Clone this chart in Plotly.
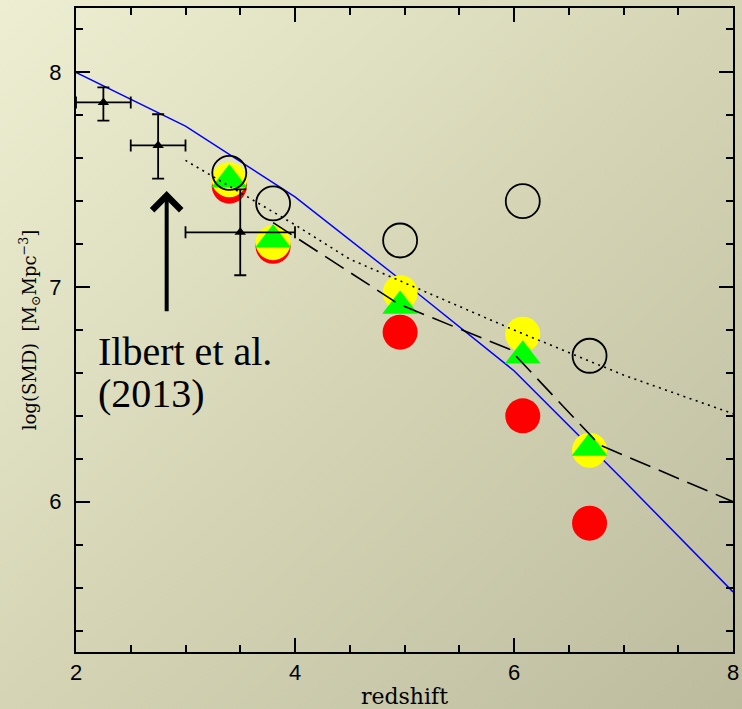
import base64
import plotly.graph_objects as go

# Model curves: stellar mass density vs redshift
z_model = [2, 3, 4, 5, 6, 7, 8]
smd_model = [8.00, 7.75, 7.42, 7.02, 6.61, 6.10, 5.58]

z_dotted = [3, 4, 4.5, 5, 6, 7, 8]
smd_dotted = [7.59, 7.29, 7.13, 7.02, 6.80, 6.59, 6.41]

z_dashed = [3.80, 4.95, 5.96, 6.78, 8]
smd_dashed = [7.30, 6.92, 6.71, 6.265, 6.00]

# Ilbert et al. (2013) measurements
z_ilbert = [2.25, 2.75, 3.50]
z_ilbert_err = [0.25, 0.25, 0.50]
smd_ilbert = [7.86, 7.66, 7.255]
smd_ilbert_up = [0.07, 0.145, 0.20]
smd_ilbert_down = [0.085, 0.155, 0.20]

# Binned estimates at the sample redshifts
z_bins = [3.40, 3.80, 4.96, 6.08, 6.69]
smd_open = [7.532, 7.39, 7.217, 7.40, 6.68]
smd_red = [7.47, 7.19, 6.79, 6.40, 5.90]
smd_yellow = [7.50, 7.207, 6.974, 6.78, 6.24]
smd_green = [7.50, 7.22, 6.912, 6.68, 6.25]

x_ticks = [2, 4, 6, 8]
y_ticks = [6, 7, 8]

W, H = 742, 709
ML, MR, MT, MB = 76, 9, 8, 57
PW, PH = W - ML - MR, H - MT - MB

fig = go.Figure()

fig.add_trace(go.Scatter(x=z_model, y=smd_model, mode="lines",
                         line=dict(color="#0000ff", width=1.5)))

fig.add_trace(go.Scatter(x=z_bins, y=smd_red, mode="markers",
                         marker=dict(symbol="circle", size=35, color="#ff0000",
                                     line=dict(width=0))))
fig.add_trace(go.Scatter(x=z_bins, y=smd_yellow, mode="markers",
                         marker=dict(symbol="circle", size=35, color="#ffff00",
                                     line=dict(width=0))))
fig.add_trace(go.Scatter(x=z_bins, y=smd_green, mode="markers",
                         marker=dict(symbol="triangle-up", size=31, color="#00ff00",
                                     line=dict(width=0))))

fig.add_trace(go.Scatter(x=z_dotted, y=smd_dotted, mode="lines",
                         line=dict(color="black", width=1.6, dash="2px,4.5px")))
fig.add_trace(go.Scatter(x=z_dashed, y=smd_dashed, mode="lines",
                         line=dict(color="black", width=1.6, dash="22px,9px")))

fig.add_trace(go.Scatter(
    x=z_ilbert, y=smd_ilbert, mode="markers",
    marker=dict(symbol="triangle-up", size=10, color="black"),
    error_x=dict(type="data", array=z_ilbert_err, color="black", thickness=1.8, width=6),
    error_y=dict(type="data", array=smd_ilbert_up, arrayminus=smd_ilbert_down,
                 color="black", thickness=1.8, width=6),
))

fig.add_trace(go.Scatter(x=z_bins, y=smd_open, mode="markers",
                         marker=dict(symbol="circle-open", size=34, color="black",
                                     line=dict(width=1.8, color="black"))))

# Label and arrow pointing at the Ilbert et al. points
fig.add_annotation(x=2.183, y=6.70, text="Ilbert et al.", showarrow=False,
                   xanchor="left", yanchor="middle",
                   font=dict(family="Liberation Serif", size=40, color="black"))
fig.add_annotation(x=2.183, y=6.505, text="(2013)", showarrow=False,
                   xanchor="left", yanchor="middle",
                   font=dict(family="Liberation Serif", size=40, color="black"))
fig.add_annotation(x=2.828, y=7.447, ax=2.828, ay=6.88, axref="x", ayref="y",
                   text="", showarrow=True, arrowhead=4, arrowsize=1.4,
                   arrowwidth=4, arrowcolor="black", standoff=0)

# Soft diagonal background wash
svg = (
    f'<svg xmlns="http://www.w3.org/2000/svg" width="{W}" height="{H}">'
    '<defs><linearGradient id="g" x1="0" y1="0" x2="1" y2="1">'
    '<stop offset="0" stop-color="#eeefd2"/>'
    '<stop offset="0.5" stop-color="#d5d5b6"/>'
    '<stop offset="1" stop-color="#bcbb9e"/>'
    '</linearGradient></defs>'
    f'<rect width="{W}" height="{H}" fill="url(#g)"/></svg>'
)
bg_src = "data:image/svg+xml;base64," + base64.b64encode(svg.encode()).decode()
fig.add_layout_image(source=bg_src, xref="paper", yref="paper",
                     x=-ML / PW, y=1 + MT / PH, sizex=W / PW, sizey=H / PH,
                     xanchor="left", yanchor="top", sizing="stretch", layer="below")

axis_common = dict(
    automargin=False,
    showgrid=False, zeroline=False, showline=True, linecolor="black", linewidth=2,
    mirror="ticks", ticks="inside", ticklen=14, tickwidth=1.5, tickcolor="black",
    tickfont=dict(family="Liberation Sans", size=22, color="black"),
    minor=dict(ticks="inside", ticklen=7, tickwidth=1.5, tickcolor="black"),
)

fig.update_layout(
    width=W, height=H,
    margin=dict(l=ML, r=MR, t=MT, b=MB, autoexpand=False),
    paper_bgcolor="#d5d5b6",
    plot_bgcolor="rgba(0,0,0,0)",
    showlegend=False,
    xaxis=dict(range=[2, 8], tickvals=x_ticks, ticktext=[str(v) for v in x_ticks],
               minor_dtick=0.5, minor_tick0=2, ticklabelstandoff=0,
               title=dict(text="redshift", standoff=6,
                          font=dict(family="DejaVu Serif", size=22, color="black")),
               **axis_common),
    yaxis=dict(range=[5.3, 8.3], tickvals=y_ticks, ticktext=[str(v) for v in y_ticks],
               minor_dtick=0.2, minor_tick0=5.4, ticklabelstandoff=8,
               title=dict(text="log(SMD)  [M<sub>⊙</sub>Mpc<sup>−3</sup>]", standoff=8,
                          font=dict(family="DejaVu Serif", size=18, color="black")),
               **axis_common),
)

fig.write_html("out.html")
